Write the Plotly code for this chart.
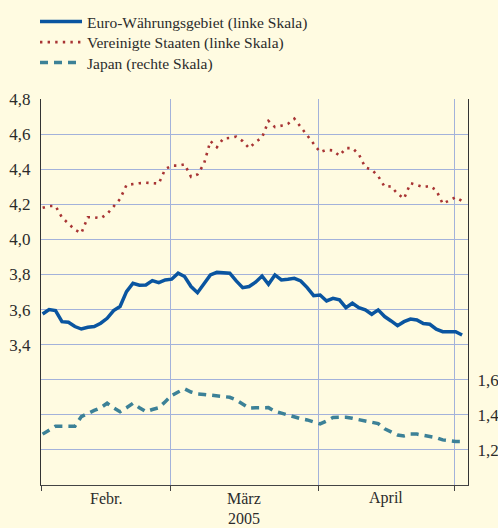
import pandas as pd
import plotly.graph_objects as go

# Business days Feb 1 - May 3, 2005 (plotted at 06:00 of each day)
dates = pd.bdate_range("2005-02-01", "2005-05-03") + pd.Timedelta(hours=6)

euro = [3.575, 3.600, 3.594, 3.531, 3.528, 3.503, 3.489, 3.499, 3.503, 3.522,
        3.550, 3.594, 3.617, 3.702, 3.750, 3.739, 3.740, 3.765, 3.753, 3.769,
        3.773, 3.807, 3.788, 3.731, 3.696, 3.750, 3.797, 3.812, 3.807, 3.807,
        3.763, 3.725, 3.731, 3.756, 3.791, 3.744, 3.797, 3.769, 3.773, 3.778,
        3.763, 3.725, 3.679, 3.683, 3.649, 3.664, 3.655, 3.611, 3.636, 3.611,
        3.598, 3.573, 3.598, 3.560, 3.535, 3.508, 3.531, 3.546, 3.541, 3.520,
        3.516, 3.488, 3.474, 3.472, 3.474, 3.455]

usa = [4.18, 4.19, 4.19, 4.125, 4.09, 4.055, 4.035, 4.126, 4.126, 4.12,
       4.145, 4.19, 4.23, 4.31, 4.316, 4.32, 4.323, 4.322, 4.318, 4.40,
       4.42, 4.42, 4.428, 4.356, 4.37, 4.43, 4.56, 4.525, 4.575, 4.578,
       4.585, 4.56, 4.52, 4.555, 4.58, 4.675, 4.64, 4.648, 4.658, 4.688,
       4.64, 4.595, 4.54, 4.497, 4.51, 4.507, 4.477, 4.52, 4.52, 4.485,
       4.41, 4.398, 4.36, 4.30, 4.302, 4.26, 4.232, 4.32, 4.31, 4.298,
       4.304, 4.28, 4.203, 4.22, 4.24, 4.219]

japan = [1.29, 1.315, 1.335, 1.335, 1.333, 1.335, 1.39, 1.41, 1.425, 1.44,
         1.466, 1.44, 1.418, 1.44, 1.466, 1.44, 1.418, 1.43, 1.44, 1.475,
         1.51, 1.53, 1.548, 1.53, 1.519, 1.516, 1.513, 1.51, 1.505, 1.50,
         1.485, 1.46, 1.438, 1.44, 1.441, 1.441, 1.42, 1.41, 1.395, 1.385,
         1.378, 1.371, 1.36, 1.348, 1.365, 1.385, 1.386, 1.386, 1.38, 1.373,
         1.367, 1.362, 1.35, 1.32, 1.30, 1.285, 1.28, 1.29, 1.29, 1.283,
         1.278, 1.27, 1.257, 1.252, 1.248, 1.248]

series_names = ["Euro-Währungsgebiet (linke Skala)",
                "Vereinigte Staaten (linke Skala)",
                "Japan (rechte Skala)"]

left_ticks = [3.4, 3.6, 3.8, 4.0, 4.2, 4.4, 4.6, 4.8]
right_ticks = [1.2, 1.4, 1.6]
month_starts = ["2005-02-01", "2005-03-01", "2005-04-01", "2005-05-02"]
month_labels = ["Febr.", "März", "April"]
month_centers = ["2005-02-15 00:00", "2005-03-16 12:00", "2005-04-15 12:00"]
year_label = "2005"

BG = "#fffbe1"
GRID = "#a3b2da"
TXT = "#2b2b2b"
FONT = "Liberation Serif"
W, H = 498, 528

fig = go.Figure()
fig.add_trace(go.Scatter(x=dates, y=euro, name=series_names[0], mode="lines",
                         legend="legend",
                         line=dict(color="#0a55a0", width=3.5)))
fig.add_trace(go.Scatter(x=dates, y=usa, name=series_names[1], mode="lines",
                         legend="legend2",
                         line=dict(color="#a83434", width=2.6, dash="2.4px,5.2px")))
fig.add_trace(go.Scatter(x=dates, y=japan, name=series_names[2], mode="lines",
                         yaxis="y2", legend="legend3",
                         line=dict(color="#3c8197", width=3.5, dash="8px,6px")))

for lab, c in zip(month_labels, month_centers):
    fig.add_annotation(x=c, y=-(498.5 - 485) / 386, xref="x", yref="paper",
                       text=lab, showarrow=False, yanchor="middle",
                       font=dict(family=FONT, size=16, color=TXT))
fig.add_annotation(x=month_centers[1], y=-(518 - 485) / 386, xref="x",
                   yref="paper", text=year_label, showarrow=False,
                   yanchor="middle",
                   font=dict(family=FONT, size=16, color=TXT))


def leg(ypix):
    return dict(xref="container", yref="container",
                x=35 / W, y=1 - ypix / H, xanchor="left", yanchor="middle",
                bgcolor="rgba(0,0,0,0)", itemwidth=42,
                font=dict(family=FONT, size=15.5, color=TXT))


fig.update_layout(
    width=W, height=H,
    margin=dict(l=41, r=30, t=99, b=43, autoexpand=False),
    paper_bgcolor=BG, plot_bgcolor=BG,
    separators=",.",
    font=dict(family=FONT, size=17, color=TXT),
    showlegend=True,
    legend=leg(22), legend2=leg(42.5), legend3=leg(63),
    xaxis=dict(
        range=["2005-02-01", "2005-05-04 04:00"],
        rangebreaks=[dict(bounds=["sat", "mon"])],
        tickvals=month_starts, showticklabels=False,
        ticks="outside", ticklen=5, tickcolor="#444", tickwidth=1,
        showgrid=True, gridcolor=GRID, gridwidth=1,
        showline=True, linecolor="#444", linewidth=1,
        zeroline=False, automargin=False,
    ),
    yaxis=dict(
        range=[2.6, 4.8], tickvals=left_ticks, tickformat=".1f",
        showgrid=True, gridcolor=GRID, gridwidth=1,
        showline=True, linecolor="#333", linewidth=1,
        ticks="", ticklabelstandoff=6, zeroline=False, automargin=False,
        tickfont=dict(family=FONT, size=17, color=TXT),
    ),
    yaxis2=dict(
        range=[1.0, 3.2], tickvals=right_ticks, tickformat=".1f",
        overlaying="y", side="right", anchor="x",
        showgrid=True, gridcolor=GRID, gridwidth=1,
        showline=True, linecolor="#333", linewidth=1,
        ticks="", ticklabelstandoff=5, zeroline=False, automargin=False,
        tickfont=dict(family=FONT, size=17, color=TXT),
    ),
)

fig.write_html("out.html",
               config={"displayModeBar": False},
               post_script="document.body.style.margin='0';"
                           "document.body.style.background='" + BG + "';")
